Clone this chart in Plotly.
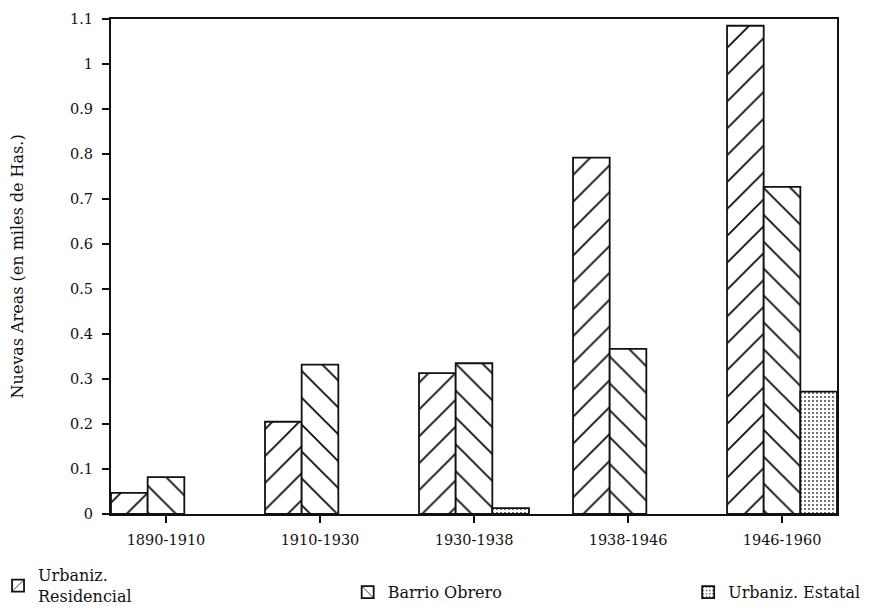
import plotly.graph_objects as go

categories = ["1890-1910", "1910-1930", "1930-1938", "1938-1946", "1946-1960"]
residencial = [0.047, 0.205, 0.313, 0.792, 1.085]
obrero = [0.082, 0.332, 0.335, 0.367, 0.727]
estatal = [None, None, 0.013, None, 0.272]
y_ticks = [0, 0.1, 0.2, 0.3, 0.4, 0.5, 0.6, 0.7, 0.8, 0.9, 1, 1.1]

FONT = "DejaVu Serif"
fig = go.Figure()

def add(name, vals, shape, size, solidity, fg, legend):
    fig.add_trace(go.Bar(
        name=name, x=categories, y=vals, legend=legend,
        marker=dict(color="white",
                    line=dict(color="#111", width=1.8),
                    pattern=dict(shape=shape, fgcolor=fg, bgcolor="white",
                                 fgopacity=1, size=size, solidity=solidity)),
    ))

add("Urbaniz.<br>Residencial", residencial, "/", 19, 0.1, "#111", "legend")
add("Barrio Obrero", obrero, "\\", 19, 0.1, "#111", "legend2")
add("Urbaniz. Estatal", estatal, ".", 4, 0.2, "#444", "legend3")

leg_common = dict(orientation="h", yanchor="middle", xanchor="left",
                  font=dict(family=FONT, size=16, color="#111"),
                  bgcolor="rgba(0,0,0,0)", itemwidth=30)

fig.update_layout(
    width=871, height=602,
    margin=dict(l=103, r=42, t=11, b=96, autoexpand=False),
    paper_bgcolor="white", plot_bgcolor="white",
    barmode="group", bargap=0.286, bargroupgap=0,
    font=dict(family=FONT, size=14.5, color="#111"),
    showlegend=True,
    legend=dict(x=-0.1556, y=-0.145, **leg_common),
    legend2=dict(x=0.326, y=-0.158, **leg_common),
    legend3=dict(x=0.795, y=-0.158, **leg_common),
    xaxis=dict(range=[-0.357, 4.357], showline=True, linecolor="#111", linewidth=2,
               mirror=True, ticks="outside", ticklen=7, tickcolor="#111", tickwidth=1.5,
               showgrid=False, tickfont=dict(family=FONT, size=14.5),
               ticklabelstandoff=5),
    yaxis=dict(range=[0, 1.1], tickvals=y_ticks, ticktext=[f"{v:g}" for v in y_ticks],
               showline=True, linecolor="#111", linewidth=2, mirror=True,
               ticks="outside", ticklen=7, tickcolor="#111", tickwidth=1.5,
               showgrid=False, zeroline=False, ticklabelstandoff=6,
               title=dict(text="Nuevas Areas (en miles de Has.)", standoff=44,
                          font=dict(family=FONT, size=16)),
               tickfont=dict(family=FONT, size=14.5)),
)

fig.write_html("out.html")
